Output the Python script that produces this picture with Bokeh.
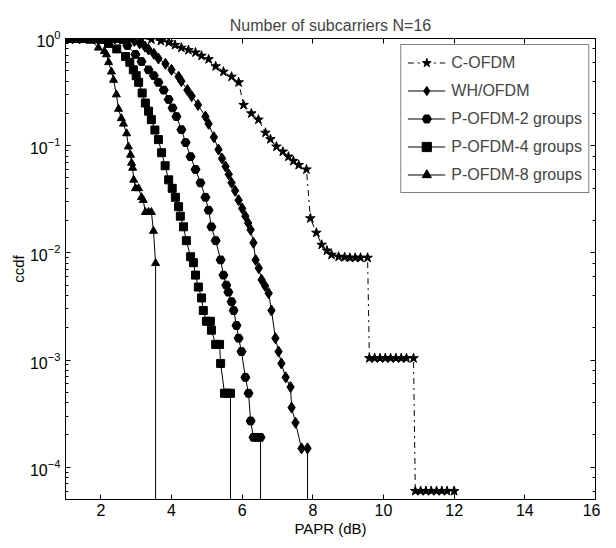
from bokeh.plotting import figure
from bokeh.models import Range1d, LinearAxis, LogAxis, FixedTicker, CustomJSTickFormatter
from bokeh.embed import file_html
from bokeh.resources import INLINE

FONT = "Liberation Sans"

TITLE = "Number of subcarriers N=16"
X_LABEL = "PAPR (dB)"
Y_LABEL = "ccdf"
X_TICKS = [2, 4, 6, 8, 10, 12, 14, 16]

# C-OFDM (stars, dash-dot)
c_ofdm_x = [1.0, 1.2, 1.4, 1.6, 1.8, 2.0, 2.2, 2.4, 2.6, 2.87, 3.15, 3.43, 3.7, 3.92,
            4.1, 4.28, 4.48, 4.68, 4.85, 5.05, 5.25, 5.47, 5.7, 5.9, 6.04, 6.26, 6.46,
            6.66, 6.8, 6.97, 7.15, 7.31, 7.45, 7.6, 7.82, 7.93, 8.1, 8.25, 8.4, 8.53,
            8.73, 8.9, 9.05, 9.2, 9.35, 9.55, 9.6, 9.75, 9.9, 10.05, 10.2, 10.35, 10.5,
            10.65, 10.85, 10.9, 11.05, 11.2, 11.35, 11.5, 11.65, 11.8, 12.0, 12.0]
c_ofdm_y = [1.0, 1.0, 1.0, 1.0, 1.0, 1.0, 1.0, 1.0, 1.0, 0.99, 0.99, 0.98, 0.95, 0.92,
            0.87, 0.82, 0.78, 0.74, 0.69, 0.64, 0.55, 0.49, 0.44, 0.39, 0.24, 0.20, 0.175,
            0.132, 0.115, 0.098, 0.088, 0.079, 0.072, 0.066, 0.06, 0.021, 0.0154, 0.0119,
            0.0105, 0.0096, 0.0092, 0.0091, 0.009, 0.009, 0.009, 0.009, 0.00104, 0.00104,
            0.00104, 0.00104, 0.00104, 0.00104, 0.00104, 0.00104, 0.00104, 6e-5, 6e-5,
            6e-5, 6e-5, 6e-5, 6e-5, 6e-5, 6e-5, 1e-9]

# WH/OFDM (diamonds)
wh_x = [1.0, 1.2, 1.4, 1.6, 1.8, 2.0, 2.2, 2.4, 2.6, 2.78, 2.95, 3.1, 3.25, 3.35, 3.5,
        3.63, 3.83, 4.0, 4.2, 4.28, 4.45, 4.57, 4.75, 4.96, 5.05, 5.2, 5.33, 5.43, 5.53,
        5.62, 5.7, 5.8, 5.9, 6.0, 6.09, 6.17, 6.24, 6.32, 6.38, 6.47, 6.55, 6.65, 6.75,
        6.83, 6.94, 7.03, 7.11, 7.23, 7.37, 7.4, 7.51, 7.68, 7.85, 7.85]
wh_y = [1.0, 1.0, 1.0, 1.0, 1.0, 1.0, 1.0, 1.0, 1.0, 0.99, 0.95, 0.9, 0.84, 0.79, 0.72,
        0.65, 0.58, 0.51, 0.44, 0.40, 0.33, 0.29, 0.24, 0.187, 0.16, 0.12, 0.092, 0.076,
        0.064, 0.054, 0.045, 0.038, 0.031, 0.026, 0.022, 0.019, 0.0164, 0.0124, 0.0086,
        0.0072, 0.0056, 0.0049, 0.0042, 0.0029, 0.0016, 0.0012, 0.00093, 0.00069, 0.00056,
        0.00036, 0.00026, 0.00015, 0.00015, 1e-9]

# P-OFDM-2 groups
p2_x = [1.0, 1.2, 1.4, 1.6, 1.8, 2.0, 2.2, 2.4, 2.58, 2.75, 2.98, 3.15, 3.35, 3.5, 3.63,
        3.78, 3.92, 4.03, 4.14, 4.28, 4.4, 4.54, 4.68, 4.82, 4.96, 5.05, 5.13, 5.25, 5.39,
        5.47, 5.55, 5.61, 5.7, 5.76, 5.84, 5.9, 5.98, 6.09, 6.18, 6.24, 6.32, 6.42, 6.52,
        6.52]
p2_y = [1.0, 1.0, 1.0, 1.0, 1.0, 1.0, 1.0, 1.0, 0.98, 0.86, 0.71, 0.61, 0.51, 0.45, 0.39,
        0.33, 0.27, 0.225, 0.187, 0.141, 0.107, 0.079, 0.06, 0.045, 0.033, 0.025, 0.0175,
        0.013, 0.0086, 0.0062, 0.005, 0.0043, 0.0035, 0.0029, 0.0021, 0.0016, 0.0012,
        0.00069, 0.00049, 0.00027, 0.00019, 0.00019, 0.00019, 1e-9]

# P-OFDM-4 groups (squares)
p4_x = [1.0, 1.2, 1.4, 1.6, 1.8, 2.0, 2.22, 2.45, 2.7, 2.82, 2.92, 3.0, 3.07, 3.17, 3.26,
        3.35, 3.43, 3.53, 3.63, 3.72, 3.82, 3.92, 4.02, 4.11, 4.2, 4.25, 4.34, 4.42, 4.54,
        4.62, 4.68, 4.76, 4.85, 4.9, 4.99, 5.1, 5.13, 5.25, 5.36, 5.39, 5.5, 5.58, 5.67,
        5.67]
p4_y = [1.0, 1.0, 1.0, 1.0, 1.0, 0.98, 0.9, 0.8, 0.68, 0.6, 0.51, 0.45, 0.39, 0.31, 0.25,
        0.21, 0.175, 0.14, 0.114, 0.086, 0.065, 0.048, 0.04, 0.033, 0.027, 0.022, 0.0175,
        0.013, 0.0092, 0.0081, 0.0062, 0.0048, 0.0038, 0.0029, 0.0023, 0.0023, 0.0019,
        0.0014, 0.0014, 0.00093, 0.00049, 0.00049, 0.00049, 1e-9]

# P-OFDM-8 groups (triangles)
p8_x = [1.0, 1.2, 1.4, 1.6, 1.74, 1.93, 2.1, 2.16, 2.22, 2.3, 2.36, 2.44, 2.5, 2.58, 2.64,
        2.73, 2.78, 2.84, 2.87, 2.9, 2.93, 2.98, 3.07, 3.15, 3.2, 3.26, 3.35, 3.43, 3.49,
        3.55, 3.55]
p8_y = [1.0, 1.0, 1.0, 1.0, 0.95, 0.82, 0.76, 0.71, 0.6, 0.49, 0.41, 0.30, 0.22, 0.18,
        0.16, 0.13, 0.098, 0.082, 0.069, 0.062, 0.048, 0.04, 0.04, 0.033, 0.031, 0.024,
        0.024, 0.024, 0.016, 0.008, 1e-9]

p = figure(width=600, height=539, y_axis_type="log",
           x_range=Range1d(1, 16), y_range=Range1d(5e-5, 1),
           output_backend="svg", toolbar_location=None,
           min_border_left=65, min_border_right=5, min_border_top=38, min_border_bottom=40,
           title=TITLE)

p.title.align = "center"
p.title.text_font = FONT
p.title.text_font_size = "16px"
p.title.text_font_style = "normal"
p.title.standoff = 10

p.xgrid.visible = False
p.ygrid.visible = False
p.outline_line_color = "black"
p.outline_line_width = 1

series = [
    (c_ofdm_x, c_ofdm_y, "C-OFDM", "star", 10, "6 4 2 4"),
    (wh_x, wh_y, "WH/OFDM", "diamond", 11, "solid"),
    (p2_x, p2_y, "P-OFDM-2 groups", "hex", 9, "solid"),
    (p4_x, p4_y, "P-OFDM-4 groups", "square", 8, "solid"),
    (p8_x, p8_y, "P-OFDM-8 groups", "triangle", 8, "solid"),
]
for xs, ys, label, marker, size, dash in series:
    p.line(xs, ys, line_color="black", line_width=1, line_dash=dash, legend_label=label)
    p.scatter(xs, ys, marker=marker, size=size, fill_color="black", line_color="black",
              legend_label=label)

# axes styling
p.xaxis.ticker = FixedTicker(ticks=X_TICKS)
for ax in [p.xaxis[0], p.yaxis[0]]:
    ax.major_tick_in = 5
    ax.major_tick_out = 0
    ax.minor_tick_in = 3
    ax.minor_tick_out = 0
    ax.axis_line_color = "black"
    ax.major_label_text_font = FONT
    ax.major_label_text_font_size = "16px"
    ax.major_label_text_color = "black"
    ax.axis_label_text_font = FONT
    ax.axis_label_text_font_size = "15px"
    ax.axis_label_text_font_style = "normal"
    ax.axis_label_text_color = "black"
p.xaxis.axis_label = X_LABEL
p.yaxis.axis_label = Y_LABEL
p.xaxis.major_label_standoff = 4
p.xaxis.axis_label_standoff = 1
p.yaxis.major_label_standoff = 5
p.yaxis.axis_label_standoff = 0

blank = CustomJSTickFormatter(code="return ''")
top = LinearAxis(ticker=FixedTicker(ticks=X_TICKS), formatter=blank,
                 major_label_standoff=0, major_label_text_font_size="2px",
                 major_tick_in=5, major_tick_out=0, minor_tick_in=0, minor_tick_out=0)
right = LogAxis(formatter=CustomJSTickFormatter(code="return ''"),
                major_label_standoff=0, major_label_text_font_size="2px",
                major_tick_in=5, major_tick_out=0, minor_tick_in=3, minor_tick_out=0)
p.add_layout(top, "above")
p.add_layout(right, "right")

leg = p.legend[0]
leg.location = "top_right"
leg.margin = 6
leg.padding = 6
leg.spacing = 5
leg.label_height = 23
leg.glyph_height = 23
leg.glyph_width = 38
leg.label_standoff = 6
leg.label_text_font = FONT
leg.label_text_font_size = "16px"
leg.border_line_color = "black"
leg.border_line_width = 1
leg.background_fill_alpha = 1

open("out.html", "w").write(file_html(p, INLINE))
